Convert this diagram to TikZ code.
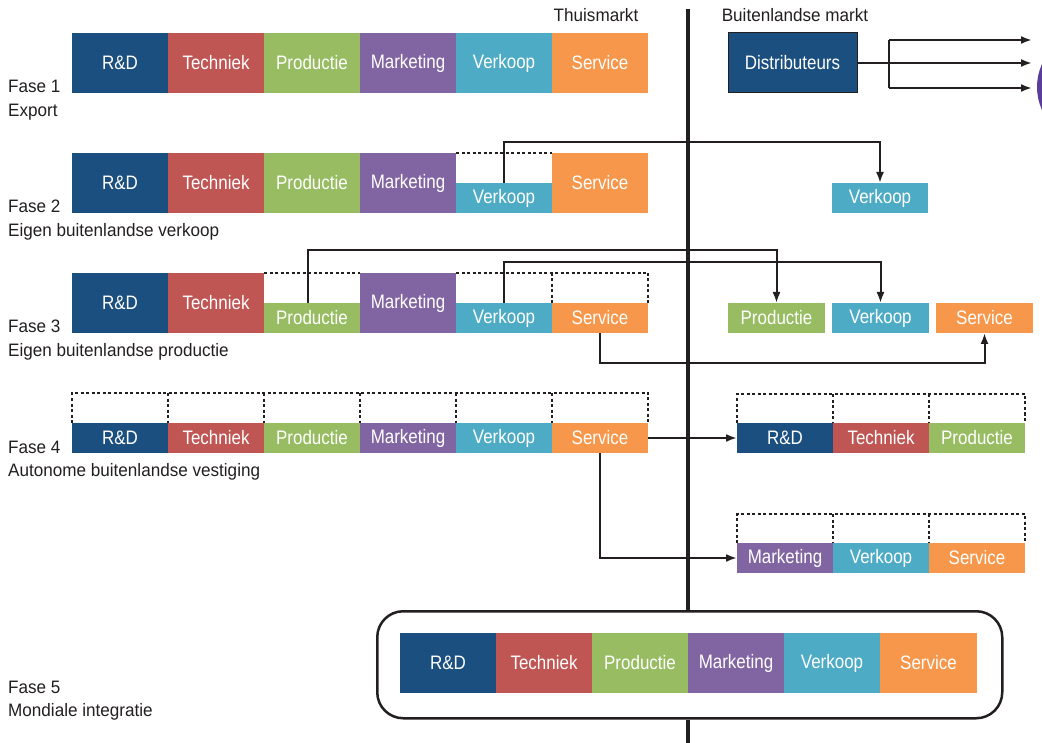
\documentclass[tikz,border=0pt]{standalone}
\usepackage{fontspec}
\setmainfont[FakeStretch=0.95]{Liberation Sans}
\newfontfamily\cellfont[FakeStretch=0.87]{Liberation Sans}
\usetikzlibrary{arrows.meta}
\definecolor{rd}{HTML}{1B4F80}
\definecolor{tk}{HTML}{BF5654}
\definecolor{pr}{HTML}{97BC62}
\definecolor{mk}{HTML}{8165A2}
\definecolor{vk}{HTML}{4DABC6}
\definecolor{sv}{HTML}{F7974B}
\definecolor{ink}{HTML}{231F20}
\definecolor{blob}{HTML}{5A3D9B}
\begin{document}
\begin{tikzpicture}[x=1pt,y=-1pt,
  cell/.style={minimum width=96pt, minimum height=60pt, inner sep=0pt, outer sep=0pt,
    text=white, font=\cellfont\fontsize{19.5}{22}\selectfont, anchor=north west},
  half/.style={cell, minimum height=30pt},
  dbox/.style={draw=ink, line width=1.2pt, dash pattern=on 3pt off 2.5pt},
  conn/.style={draw=ink, line width=2pt, -{Latex[length=11pt,width=8pt]}},
  plain/.style={draw=ink, line width=2pt},
  mainline/.style={draw=ink, line width=4.5pt},
  lab/.style={text=ink, font=\fontsize{18}{22}\selectfont, inner sep=0pt, anchor=base west}]
\useasboundingbox (0,0) rectangle (1042,743);
\fill[white] (0,0) rectangle (1042,743);
\begin{scope}
  \clip (0,0) rectangle (1042,743);
  \fill[blob] (1092,87) circle (55);
\end{scope}

% headers
\node[lab, anchor=base] (tm) at (596,22) {Thuismarkt};
\node[lab, anchor=base] (bm) at (795,22) {Buitenlandse markt};

% phase labels
\node[lab] (l1a) at (8,93) {Fase 1};
\node[lab] (l1b) at (8,116.5) {Export};
\node[lab] (l2a) at (8,213) {Fase 2};
\node[lab] (l2b) at (8,236.5) {Eigen buitenlandse verkoop};
\node[lab] (l3a) at (8,333) {Fase 3};
\node[lab] (l3b) at (8,356.5) {Eigen buitenlandse productie};
\node[lab] (l4a) at (8,453) {Fase 4};
\node[lab] (l4b) at (8,476.5) {Autonome buitenlandse vestiging};
\node[lab] (l5a) at (8,693) {Fase 5};
\node[lab] (l5b) at (8,716.5) {Mondiale integratie};

% fase 5 frame
\node[draw=ink, line width=2.5pt, rounded corners=26pt, minimum width=625pt, minimum height=107pt,
  inner sep=0pt, anchor=north west] (frame) at (376,610) {};

% main divider
\coordinate (vtop) at (688,9);
\coordinate (vbot) at (688,743);
\draw[mainline] (vtop) -- (frame.north -| vtop);
\draw[mainline] (frame.south -| vtop) -- (vbot);

% dashed placeholders
\draw[dbox] (456,153) -- (552,153);
\draw[dbox] (264,273) -- (360,273);
\draw[dbox] (456,273) -- (648,273);
\draw[dbox] (552,273) -- (552,303);
\draw[dbox] (648,273) -- (648,303);
\draw[dbox] (72,423) -- (72,393) -- (648,393) -- (648,423);
\foreach \x in {168,264,360,456,552} {\draw[dbox] (\x,393) -- (\x,423);}
\draw[dbox] (737,423) -- (737,394) -- (1025,394) -- (1025,423);
\foreach \x in {833,929} {\draw[dbox] (\x,394) -- (\x,423);}
\draw[dbox] (737,543) -- (737,514) -- (1025,514) -- (1025,543);
\foreach \x in {833,929} {\draw[dbox] (\x,514) -- (\x,543);}

% fase 1
\node[cell, fill=rd] (a1) at (72,33) {R\&D};
\node[cell, fill=tk] (a2) at (168,33) {Techniek};
\node[cell, fill=pr] (a3) at (264,33) {Productie};
\node[cell, fill=mk] (a4) at (360,33) {Marketing};
\node[cell, fill=vk] (a5) at (456,33) {Verkoop};
\node[cell, fill=sv] (a6) at (552,33) {Service};
\node[cell, fill=rd, draw=ink, line width=1pt, minimum width=129pt] (dist) at (728,33) {Distributeurs};

% fase 2
\node[cell, fill=rd] (b1) at (72,153) {R\&D};
\node[cell, fill=tk] (b2) at (168,153) {Techniek};
\node[cell, fill=pr] (b3) at (264,153) {Productie};
\node[cell, fill=mk] (b4) at (360,153) {Marketing};
\node[half, fill=vk] (b5) at (456,183) {Verkoop};
\node[cell, fill=sv] (b6) at (552,153) {Service};
\node[half, fill=vk] (gb5) at (832,183) {Verkoop};

% fase 3
\node[cell, fill=rd] (c1) at (72,273) {R\&D};
\node[cell, fill=tk] (c2) at (168,273) {Techniek};
\node[half, fill=pr] (c3) at (264,303) {Productie};
\node[cell, fill=mk] (c4) at (360,273) {Marketing};
\node[half, fill=vk] (c5) at (456,303) {Verkoop};
\node[half, fill=sv] (c6) at (552,303) {Service};
\node[half, fill=pr, minimum width=97pt] (gc3) at (728,303) {Productie};
\node[half, fill=vk, minimum width=97pt] (gc5) at (832,303) {Verkoop};
\node[half, fill=sv, minimum width=97pt] (gc6) at (936,303) {Service};

% fase 4
\node[half, fill=rd] (d1) at (72,423) {R\&D};
\node[half, fill=tk] (d2) at (168,423) {Techniek};
\node[half, fill=pr] (d3) at (264,423) {Productie};
\node[half, fill=mk] (d4) at (360,423) {Marketing};
\node[half, fill=vk] (d5) at (456,423) {Verkoop};
\node[half, fill=sv] (d6) at (552,423) {Service};
\node[half, fill=rd] (gd1) at (737,423) {R\&D};
\node[half, fill=tk] (gd2) at (833,423) {Techniek};
\node[half, fill=pr] (gd3) at (929,423) {Productie};
\node[half, fill=mk] (ge4) at (737,543) {Marketing};
\node[half, fill=vk] (ge5) at (833,543) {Verkoop};
\node[half, fill=sv] (ge6) at (929,543) {Service};

% fase 5
\node[cell, fill=rd] (f1) at (400,633) {R\&D};
\node[cell, fill=tk] (f2) at (496,633) {Techniek};
\node[cell, fill=pr] (f3) at (592,633) {Productie};
\node[cell, fill=mk] (f4) at (688,633) {Marketing};
\node[cell, fill=vk] (f5) at (784,633) {Verkoop};
\node[cell, fill=sv, minimum width=97pt] (f6) at (880,633) {Service};

% connectors
\coordinate (sp) at (889,63);
\coordinate (e1) at (1032,40);
\coordinate (e2) at (1032,63);
\coordinate (e3) at (1032,88);
\draw[conn] (dist.east) -- (e2);
\draw[plain] (e1 -| sp) -- (e3 -| sp);
\draw[conn] (e1 -| sp) -- (e1);
\draw[conn] (e3 -| sp) -- (e3);

\coordinate (h2) at (0,142);
\draw[conn] (b5.north) -- (b5.north |- h2) -| (gb5.north);
\coordinate (h3a) at (0,250);
\draw[conn] ([xshift=-4pt]c3.north) -- ([xshift=-4pt]c3.north |- h3a) -| (gc3.north);
\coordinate (h3b) at (0,262);
\draw[conn] (c5.north) -- (c5.north |- h3b) -| (gc5.north);
\coordinate (h3c) at (0,363);
\draw[conn] (c6.south) -- (c6.south |- h3c) -| (gc6.south);

\draw[conn] (d6.east) -- (gd1.west);
\draw[conn] (d6.south) |- (ge4.west);
\end{tikzpicture}
\end{document}
